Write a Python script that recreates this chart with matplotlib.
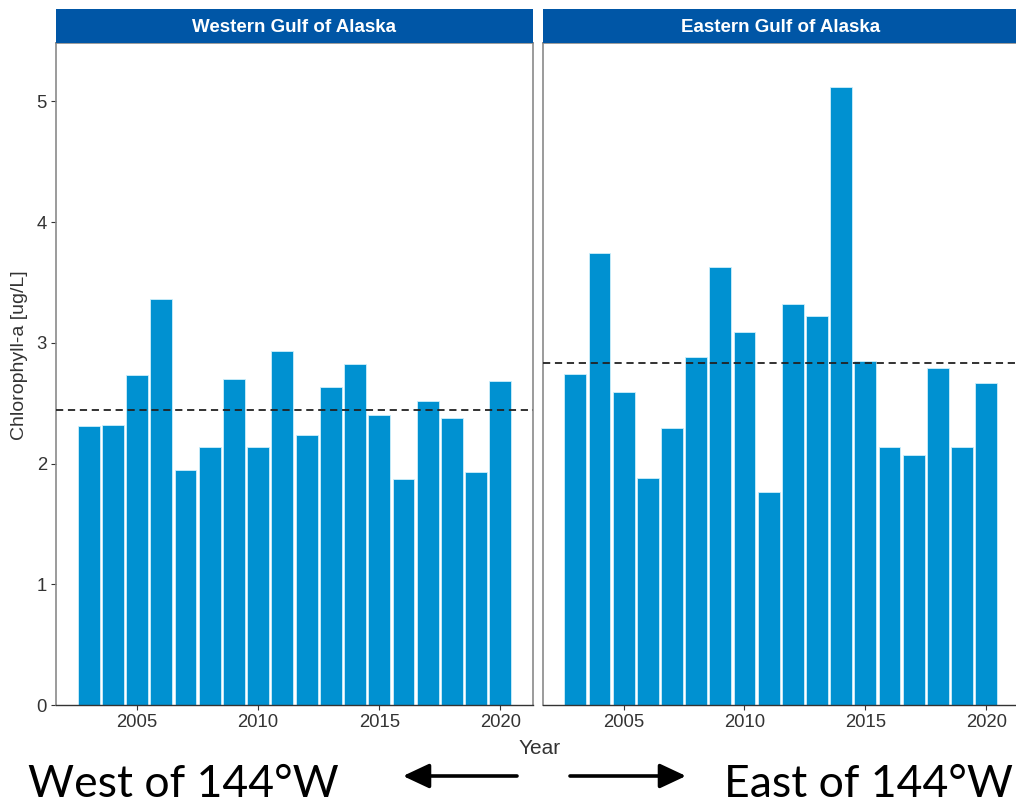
import matplotlib
matplotlib.use("Agg")
import matplotlib.pyplot as plt
from matplotlib.patches import FancyArrowPatch

years = list(range(2003, 2021))
west_chl = [2.31, 2.32, 2.73, 3.36, 1.95, 2.14, 2.70, 2.14, 2.93, 2.24,
            2.63, 2.82, 2.40, 1.87, 2.52, 2.38, 1.93, 2.68]
east_chl = [2.74, 3.74, 2.59, 1.88, 2.29, 2.88, 3.63, 3.09, 1.76, 3.32,
            3.22, 5.12, 2.85, 2.14, 2.07, 2.79, 2.14, 2.67]
west_mean = 2.44
east_mean = 2.83
panel_titles = ["Western Gulf of Alaska", "Eastern Gulf of Alaska"]
xticks = [2005, 2010, 2015, 2020]
yticks = [0, 1, 2, 3, 4, 5]
bottom_labels = ["West of 144°W", "East of 144°W"]

BAR = "#0091D1"
STRIP = "#0056A6"
TXT = "#333333"

plt.rcParams["font.family"] = ["Liberation Sans", "DejaVu Sans"]

W, H = 1016, 806
fig = plt.figure(figsize=(W / 100, H / 100), dpi=100)

def fx(px):
    return px / W

def fy(py):
    return 1 - py / H

panels = [(56, 533), (542.7, 1018.8)]
top, bot = 43.3, 705
strip_top = 9.3

for i, ((x0, x1), vals, mean, title) in enumerate(
        zip(panels, [west_chl, east_chl], [west_mean, east_mean], panel_titles)):
    ax = fig.add_axes([fx(x0), fy(bot), fx(x1) - fx(x0), fy(top) - fy(bot)])
    ax.bar(years, vals, width=0.9, color=BAR, edgecolor="#CDEFFB", linewidth=0.6, zorder=2)
    ax.axhline(mean, color="#222222", linestyle=(0, (4, 2.6)), linewidth=1.3, zorder=3)
    ax.set_xlim(2001.65, 2021.35)
    ax.set_ylim(0, 5.48)
    ax.set_xticks(xticks)
    ax.set_yticks(yticks)
    ax.tick_params(axis="both", length=3.5, width=0.8, color=TXT, labelcolor=TXT,
                   labelsize=13.3, pad=3)
    if i == 1:
        ax.tick_params(axis="y", labelleft=False, length=0)
    for s in ["left", "right", "top"]:
        ax.spines[s].set_color("#8a8a8a")
        ax.spines[s].set_linewidth(1.2)
    ax.spines["bottom"].set_color("#333333")
    ax.spines["bottom"].set_linewidth(1.0)
    # strip
    sax = fig.add_axes([fx(x0), fy(top), fx(x1) - fx(x0), fy(strip_top) - fy(top)])
    sax.set_facecolor(STRIP)
    sax.set_xticks([])
    sax.set_yticks([])
    for s in sax.spines.values():
        s.set_visible(False)
    sax.text(0.5, 0.47, title, color="white", fontsize=13.5, fontweight="bold",
             ha="center", va="center", transform=sax.transAxes)

fig.text(fx(20), fy(355), "Chlorophyll-a [ug/L]", rotation=90, ha="center", va="center",
         fontsize=14, color=TXT)
fig.text(fx(539.5), fy(754), "Year", ha="center", va="baseline", fontsize=15, color=TXT)

big_font = ["Lato", "DejaVu Sans"]
fig.text(fx(28), fy(797), bottom_labels[0], ha="left", va="baseline",
         fontsize=32, family=big_font, color="black")
fig.text(fx(1013), fy(797), bottom_labels[1], ha="right", va="baseline",
         fontsize=32, family=big_font, color="black")

for xs, xe in [(517, 403), (570, 686)]:
    arr = FancyArrowPatch((fx(xs), fy(776)), (fx(xe), fy(776)), transform=fig.transFigure,
                          arrowstyle="-|>,head_length=16,head_width=7.5",
                          mutation_scale=1, color="black", linewidth=2.6,
                          shrinkA=0, shrinkB=0)
    fig.patches.append(arr)

fig.savefig("out.png", dpi=100)
